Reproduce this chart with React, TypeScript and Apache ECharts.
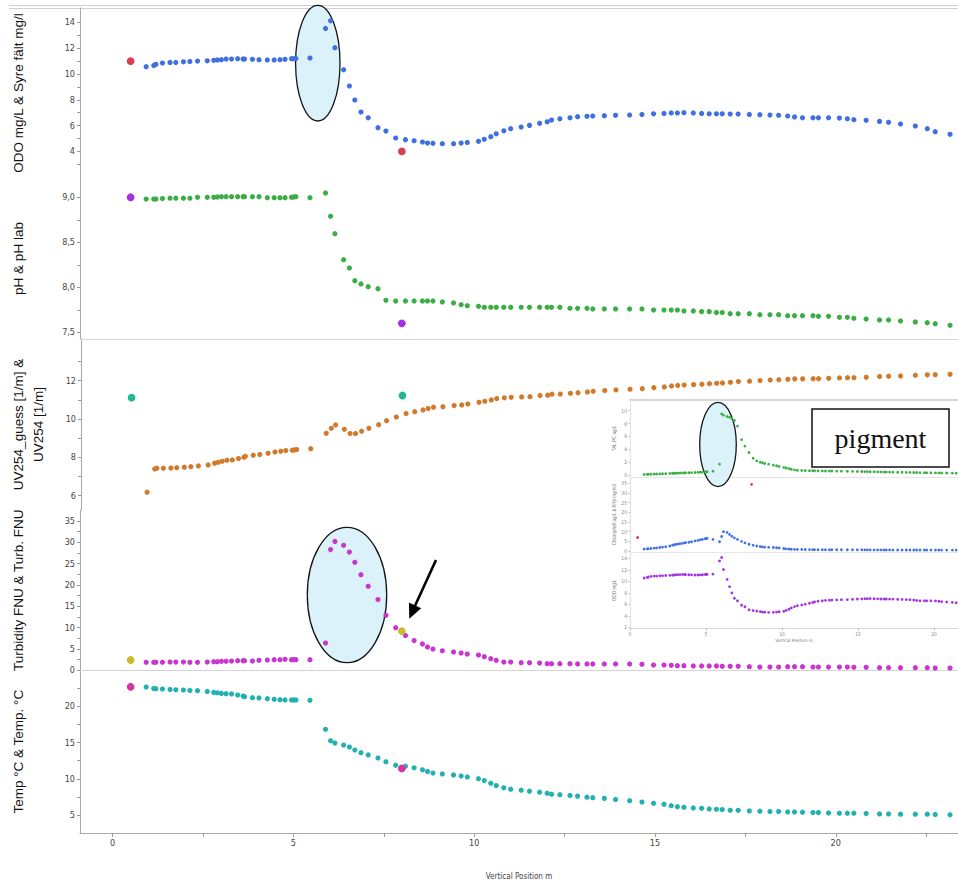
import React, { useEffect, useRef } from "react";
import * as echarts from "echarts";

// Sampling depths of the profile (m)
const depth = [
  0.93, 1.14, 1.2, 1.38, 1.59, 1.75, 1.96, 2.14, 2.35, 2.62,
  2.8, 2.9, 3.01, 3.14, 3.29, 3.46, 3.61, 3.65, 3.87, 4.05,
  4.28, 4.47, 4.63, 4.77, 4.95, 5.01, 5.07, 5.46,
  5.89, 6.03, 6.15, 6.39, 6.55, 6.7, 6.87, 7.07, 7.34, 7.56,
  7.83, 8.1, 8.34, 8.57, 8.71, 8.86, 9.12, 9.43, 9.64, 9.81,
  10.12, 10.28, 10.46, 10.61, 10.82, 11.01, 11.3, 11.53,
  11.81, 12.02, 12.14, 12.37, 12.65, 12.86, 13.12, 13.28, 13.6, 13.91,
  14.3, 14.64, 14.96, 15.25, 15.45, 15.62, 15.8, 16.06, 16.29, 16.5,
  16.7, 16.86, 17.08, 17.3, 17.61, 17.9, 18.18, 18.42, 18.67, 18.86,
  19.08, 19.37, 19.52, 19.8, 20.1, 20.32, 20.5, 20.84, 21.21, 21.46,
  21.79, 22.2, 22.53, 22.75, 23.16,
];

// Sonde readings
const odo = [
  10.57, 10.67, 10.75, 10.85, 10.9, 10.9, 10.95, 10.98, 11.01, 11.03,
  11.06, 11.09, 11.11, 11.16, 11.16, 11.19, 11.16, 11.16, 11.14, 11.11,
  11.09, 11.09, 11.11, 11.14, 11.19, 11.19, 11.21, 11.24,
  13.54, 14.13, 12.04, 10.33, 9.07, 7.98, 7.05, 6.61, 5.84, 5.58,
  5.04, 4.91, 4.83, 4.73, 4.65, 4.63, 4.6, 4.6, 4.65, 4.7,
  4.78, 4.94, 5.14, 5.37, 5.6, 5.76, 5.89, 6.02,
  6.18, 6.3, 6.43, 6.53, 6.61, 6.69, 6.72, 6.74, 6.77, 6.8,
  6.82, 6.87, 6.92, 6.95, 6.98, 6.98, 7.0, 6.98, 6.95, 6.92,
  6.92, 6.92, 6.9, 6.9, 6.87, 6.85, 6.82, 6.8, 6.74, 6.67,
  6.61, 6.61, 6.61, 6.61, 6.59, 6.53, 6.46, 6.41, 6.33, 6.26,
  6.12, 5.97, 5.76, 5.53, 5.33,
];

const ph = [
  8.98, 8.98, 8.98, 8.985, 8.99, 8.99, 8.99, 8.99, 9.0, 9.0,
  9.0, 9.003, 9.007, 9.007, 9.007, 9.007, 9.007, 9.007, 9.007, 9.007,
  8.996, 8.996, 8.996, 8.996, 9.0, 9.003, 9.007, 8.996,
  9.048, 8.789, 8.596, 8.307, 8.214, 8.074, 8.037, 8.007, 7.985, 7.856,
  7.848, 7.848, 7.848, 7.848, 7.848, 7.848, 7.837, 7.826, 7.807, 7.796,
  7.789, 7.778, 7.778, 7.778, 7.778, 7.778, 7.778, 7.778,
  7.778, 7.778, 7.778, 7.778, 7.767, 7.767, 7.767, 7.76, 7.76, 7.76,
  7.76, 7.76, 7.748, 7.748, 7.748, 7.748, 7.737, 7.737, 7.73, 7.73,
  7.719, 7.719, 7.707, 7.707, 7.707, 7.696, 7.696, 7.696, 7.685, 7.685,
  7.685, 7.685, 7.678, 7.678, 7.667, 7.667, 7.656, 7.648, 7.637, 7.637,
  7.626, 7.615, 7.607, 7.596, 7.578,
];

const uv254 = [
  6.18, 7.39, 7.43, 7.43, 7.44, 7.46, 7.48, 7.51, 7.55, 7.6,
  7.69, 7.74, 7.79, 7.85, 7.86, 7.93, 8.0, 8.05, 8.11, 8.14,
  8.21, 8.28, 8.31, 8.35, 8.37, 8.38, 8.4, 8.45,
  9.25, 9.51, 9.69, 9.46, 9.24, 9.24, 9.36, 9.51, 9.7, 9.91,
  10.1, 10.28, 10.38, 10.47, 10.54, 10.61, 10.64, 10.7, 10.73, 10.78,
  10.87, 10.92, 10.99, 11.06, 11.1, 11.13, 11.15, 11.16,
  11.22, 11.24, 11.29, 11.3, 11.34, 11.37, 11.41, 11.44, 11.48, 11.51,
  11.55, 11.58, 11.63, 11.67, 11.72, 11.75, 11.77, 11.79, 11.81, 11.84,
  11.86, 11.88, 11.91, 11.95, 11.97, 12.0, 12.03, 12.05, 12.07, 12.09,
  12.09, 12.1, 12.1, 12.12, 12.14, 12.15, 12.15, 12.17, 12.21, 12.23,
  12.24, 12.28, 12.3, 12.31, 12.33,
];

const turbidity = [
  1.89, 1.89, 1.89, 1.89, 1.96, 1.96, 1.96, 1.89, 1.89, 1.96,
  2.04, 2.04, 2.12, 2.12, 2.2, 2.27, 2.27, 2.27, 2.2, 2.36,
  2.43, 2.5, 2.5, 2.59, 2.5, 2.5, 2.5, 2.5,
  6.4, 28.3, 30.2, 29.3, 27.7, 25.3, 22.4, 19.7, 16.6, 12.9,
  10.0, 8.2, 7.0, 6.2, 5.5, 5.0, 4.6, 4.3, 4.07, 3.83,
  3.6, 3.2, 2.73, 2.36, 1.96, 1.96, 1.8, 1.8,
  1.73, 1.57, 1.57, 1.57, 1.57, 1.5, 1.5, 1.5, 1.5, 1.5,
  1.5, 1.42, 1.26, 1.26, 1.19, 1.1, 1.1, 1.03, 1.03, 1.03,
  1.03, 0.96, 0.96, 0.96, 0.86, 0.79, 0.79, 0.79, 0.86, 0.86,
  0.86, 0.79, 0.79, 0.79, 0.79, 0.79, 0.72, 0.72, 0.63, 0.63,
  0.63, 0.63, 0.63, 0.56, 0.56,
];

const temp = [
  22.64, 22.45, 22.41, 22.37, 22.31, 22.27, 22.23, 22.18, 22.14, 22.04,
  21.9, 21.86, 21.77, 21.73, 21.69, 21.55, 21.41, 21.32, 21.18, 21.14,
  21.05, 20.95, 20.91, 20.87, 20.87, 20.87, 20.87, 20.82,
  16.83, 15.24, 14.93, 14.65, 14.38, 13.97, 13.61, 13.29, 12.88, 12.34,
  11.89, 11.75, 11.52, 11.25, 11.02, 10.8, 10.67, 10.53, 10.39, 10.26,
  10.03, 9.76, 9.39, 9.07, 8.76, 8.57, 8.44, 8.3,
  8.16, 8.03, 7.89, 7.81, 7.71, 7.62, 7.48, 7.4, 7.31, 7.17,
  6.99, 6.8, 6.63, 6.49, 6.31, 6.17, 6.08, 5.99, 5.94, 5.85,
  5.81, 5.77, 5.67, 5.67, 5.58, 5.54, 5.5, 5.5, 5.44, 5.44,
  5.4, 5.36, 5.36, 5.31, 5.27, 5.27, 5.27, 5.22, 5.17, 5.17,
  5.13, 5.13, 5.13, 5.09, 5.04,
];

// Field / lab reference measurements
const labDepth = [0.5, 8.0];
const syreFalt = [11.0, 4.0];
const phLab = [9.0, 7.6];
const uv254Guess = [11.11, 11.22];
const turbLab = [2.43, 9.2];
const tempLab = [22.68, 11.43];

// Pigment profile
const talPc = [
  0.1, 0.12, 0.12, 0.14, 0.15, 0.16, 0.18, 0.2, 0.22, 0.25,
  0.27, 0.28, 0.29, 0.3, 0.31, 0.33, 0.34, 0.35, 0.36, 0.38,
  0.4, 0.42, 0.44, 0.46, 0.48, 0.5, 0.52, 0.6,
  1.7, 9.5, 9.3, 9.1, 9.0, 8.8, 8.5, 7.6, 5.5, 4.5,
  3.5, 2.6, 2.2, 2.0, 1.9, 1.8, 1.7, 1.55, 1.45, 1.35,
  1.2, 1.1, 1.0, 0.9, 0.8, 0.75, 0.72, 0.7,
  0.68, 0.67, 0.66, 0.65, 0.64, 0.63, 0.62, 0.62, 0.61, 0.6,
  0.58, 0.57, 0.56, 0.55, 0.54, 0.53, 0.52, 0.51, 0.5, 0.49,
  0.48, 0.47, 0.46, 0.45, 0.44, 0.43, 0.42, 0.41, 0.4, 0.39,
  0.38, 0.37, 0.36, 0.35, 0.34, 0.33, 0.32, 0.31, 0.3, 0.29,
  0.28, 0.27, 0.26, 0.26, 0.25,
];

const chlorophyll = [
  1.0, 1.1, 1.2, 1.3, 1.5, 1.6, 1.8, 2.0, 2.2, 2.6,
  3.0, 3.2, 3.4, 3.6, 3.8, 4.0, 4.2, 4.3, 4.5, 4.8,
  5.2, 5.5, 5.8, 6.0, 6.3, 6.5, 6.6, 6.0,
  4.8, 7.5, 10.0, 9.6, 8.6, 7.6, 6.8, 6.0, 5.0, 4.2,
  3.5, 3.0, 2.6, 2.3, 2.1, 2.0, 1.9, 1.8, 1.7, 1.6,
  1.3, 1.1, 1.0, 0.9, 0.85, 0.8, 0.8, 0.75,
  0.72, 0.7, 0.7, 0.68, 0.68, 0.66, 0.66, 0.65, 0.64, 0.64,
  0.63, 0.62, 0.62, 0.61, 0.6, 0.6, 0.59, 0.58, 0.58, 0.57,
  0.56, 0.56, 0.55, 0.55, 0.54, 0.53, 0.53, 0.52, 0.52, 0.51,
  0.5, 0.5, 0.49, 0.49, 0.48, 0.48, 0.47, 0.47, 0.46, 0.46,
  0.45, 0.45, 0.44, 0.44, 0.43,
];

const klfyl = [7.0, 34.5];

// Axis ticks
const xLabels = [0, 5, 10, 15, 20];
const xTicks = [0, 2.5, 5, 7.5, 10, 12.5, 15, 17.5, 20, 22.5];
const odoLabels = [4, 6, 8, 10, 12, 14];
const odoTicks = [3, 4, 5, 6, 7, 8, 9, 10, 11, 12, 13, 14];
const phLabels = [7.5, 8.0, 8.5, 9.0];
const phTicks = [7.5, 7.75, 8.0, 8.25, 8.5, 8.75, 9.0];
const uvLabels = [6, 8, 10, 12];
const uvTicks = [6, 7, 8, 9, 10, 11, 12, 13];
const turbLabels = [0, 5, 10, 15, 20, 25, 30, 35];
const turbTicks = [0, 2.5, 5, 7.5, 10, 12.5, 15, 17.5, 20, 22.5, 25, 27.5, 30, 32.5, 35];
const tempLabels = [5, 10, 15, 20];
const tempTicks = [5, 7.5, 10, 12.5, 15, 17.5, 20, 22.5];
const talLabels = [0, 2, 4, 6, 8, 10];
const chlLabels = [0, 5, 10, 15, 20, 25, 30, 35];
const insetOdoLabels = [2, 4, 6, 8, 10, 12, 14];

const TICK_FONT = '"Liberation Sans Narrow", "Arial Narrow", "DejaVu Sans Condensed", sans-serif';
const TITLE_FONT = '"Liberation Sans", Arial, sans-serif';

const pairs = (xs: number[], ys: number[]) => xs.map((x, i) => [x, ys[i]]);
const comma = (v: number) => v.toFixed(1).replace(".", ",");

type Panel = {
  top: number;
  bottom: number;
  min: number;
  max: number;
  labels: number[];
  ticks: number[];
  name: string;
  gap: number;
  fmt?: (v: number) => string;
};

const mainPanels: Panel[] = [
  { top: 8, bottom: 178, min: 1.94, max: 15.12, labels: odoLabels, ticks: odoTicks, name: "ODO mg/L & Syre fält mg/l", gap: 52 },
  { top: 178, bottom: 339, min: 7.426, max: 9.214, labels: phLabels, ticks: phTicks, name: "pH & pH lab", gap: 52, fmt: comma },
  { top: 339, bottom: 510, min: 5.25, max: 14.17, labels: uvLabels, ticks: uvTicks, name: "UV254_guess [1/m] &\nUV254 [1/m]", gap: 33 },
  { top: 510, bottom: 670.4, min: 0, max: 37.56, labels: turbLabels, ticks: turbTicks, name: "Turbidity FNU & Turb. FNU", gap: 52 },
  { top: 670.4, bottom: 835, min: 2.54, max: 24.94, labels: tempLabels, ticks: tempTicks, name: "Temp °C & Temp. °C", gap: 52 },
];

const insetPanels: Panel[] = [
  { top: 400, bottom: 477, min: -0.3, max: 11.66, labels: talLabels, ticks: talLabels, name: "TAL PC ug/L", gap: 11 },
  { top: 477, bottom: 552.3, min: -0.67, max: 38.3, labels: chlLabels, ticks: chlLabels, name: "Chlorophyll ug/L & Klfyl mg/m3", gap: 11 },
  { top: 552.3, bottom: 628.3, min: 1.83, max: 15.04, labels: insetOdoLabels, ticks: insetOdoLabels, name: "ODO mg/L", gap: 11 },
];

const MAIN_X = { min: -0.9, max: 23.38 };
const INSET_X = { min: 0, max: 21.58 };

function buildOption() {
  const grid: any[] = [];
  const xAxis: any[] = [];
  const yAxis: any[] = [];

  mainPanels.forEach((p, i) => {
    grid.push({ left: 79, right: 0, top: p.top, height: p.bottom - p.top });
    const last = i === mainPanels.length - 1;
    const divider = i === 1 || i === 3;
    xAxis.push({
      gridIndex: i,
      type: "value",
      min: MAIN_X.min,
      max: MAIN_X.max,
      position: "bottom",
      axisLine: { show: last || divider, onZero: false, lineStyle: { color: last ? "#a8a8a8" : "#d4d4d4", width: 1 } },
      axisTick: { show: last, customValues: xTicks, length: 4, lineStyle: { color: "#9a9a9a" } },
      axisLabel: { show: last, customValues: xLabels, fontSize: 9, color: "#444", margin: 5, fontFamily: TICK_FONT },
      splitLine: { show: false },
      name: last ? "Vertical Position m" : "",
      nameLocation: "middle",
      nameGap: 39,
      nameTextStyle: { fontSize: 8, color: "#444", fontFamily: TICK_FONT },
    });
    yAxis.push({
      gridIndex: i,
      type: "value",
      min: p.min,
      max: p.max,
      position: "left",
      axisLine: { show: true, onZero: false, lineStyle: { color: "#a8a8a8", width: 1 } },
      axisTick: { show: true, customValues: p.ticks, length: 3, lineStyle: { color: "#9a9a9a" } },
      axisLabel: {
        show: true,
        customValues: p.labels,
        fontSize: 9,
        color: "#444",
        margin: 5,
        fontFamily: TICK_FONT,
        formatter: p.fmt ? (v: number) => p.fmt!(v) : (v: number) => String(v),
      },
      splitLine: { show: false },
      name: p.name,
      nameLocation: "middle",
      nameRotate: 90,
      nameGap: p.gap,
      nameTextStyle: { fontSize: 13.5, color: "#111", fontFamily: TITLE_FONT, lineHeight: 20, align: "center" },
    });
  });

  // Inset pigment profile: three stacked panels
  insetPanels.forEach((p, k) => {
    const gi = mainPanels.length + k;
    grid.push({ left: 630, right: 0, top: p.top, height: p.bottom - p.top });
    xAxis.push({
      gridIndex: gi,
      type: "value",
      min: INSET_X.min,
      max: INSET_X.max,
      position: "top",
      axisLine: { show: true, onZero: false, lineStyle: { color: k === 0 ? "#d8d8d8" : "#e6e6e6", width: k === 0 ? 2 : 1 } },
      axisTick: { show: false },
      axisLabel: { show: false },
      splitLine: { show: false },
    });
    yAxis.push({
      gridIndex: gi,
      type: "value",
      min: p.min,
      max: p.max,
      position: "left",
      axisLine: { show: true, onZero: false, lineStyle: { color: "#e2e2e2", width: 1 } },
      axisTick: { show: true, customValues: p.ticks, length: 1.5, lineStyle: { color: "#bbb" } },
      axisLabel: { show: true, customValues: p.labels, fontSize: 5, color: "#8a8a8a", margin: 3, fontFamily: TICK_FONT },
      splitLine: { show: false },
      name: p.name,
      nameLocation: "middle",
      nameRotate: 90,
      nameGap: p.gap,
      nameTextStyle: { fontSize: 4.5, color: "#777", fontFamily: TITLE_FONT },
    });
  });

  // Bottom axis of the inset (shares the lowest inset grid)
  const insetBottomX = xAxis.length;
  xAxis.push({
    gridIndex: mainPanels.length + 2,
    type: "value",
    min: INSET_X.min,
    max: INSET_X.max,
    position: "bottom",
    axisLine: { show: true, onZero: false, lineStyle: { color: "#d8d8d8", width: 1 } },
    axisTick: { show: true, customValues: xLabels, length: 2, lineStyle: { color: "#bbb" } },
    axisLabel: { show: true, customValues: xLabels, fontSize: 5, color: "#8a8a8a", margin: 3, fontFamily: TICK_FONT },
    splitLine: { show: false },
    name: "Vertical Position m",
    nameLocation: "middle",
    nameGap: 10,
    nameTextStyle: { fontSize: 4.5, color: "#777", fontFamily: TICK_FONT },
  });

  const dots = (name: string, ax: number, ay: number, data: number[][], color: string, size: number) => ({
    name,
    type: "scatter",
    xAxisIndex: ax,
    yAxisIndex: ay,
    data,
    symbol: "circle",
    symbolSize: size,
    itemStyle: { color, opacity: 1 },
    clip: true,
    z: 3,
  });

  const S = 5.2;
  const R = 7.8;
  const I = 2.8;
  const series = [
    dots("ODO mg/L", 0, 0, pairs(depth, odo), "#3f6fe1", S),
    dots("Syre fält mg/l", 0, 0, pairs(labDepth, syreFalt), "#d7414f", R),
    dots("pH", 1, 1, pairs(depth, ph), "#3aad44", S),
    dots("pH lab", 1, 1, pairs(labDepth, phLab), "#a62ee6", R),
    dots("UV254", 2, 2, pairs(depth, uv254), "#d27a2c", S),
    dots("UV254_guess", 2, 2, pairs(labDepth, uv254Guess), "#23b98f", R),
    dots("Turbidity FNU", 3, 3, pairs(depth, turbidity), "#c835cf", S),
    dots("Turb. FNU", 3, 3, pairs(labDepth, turbLab), "#c9bd2b", R),
    dots("Temp °C", 4, 4, pairs(depth, temp), "#22b1b0", S),
    dots("Temp. °C", 4, 4, pairs(labDepth, tempLab), "#d6379f", R),
    dots("TAL PC ug/L", 5, 5, pairs(depth, talPc), "#3cae46", I),
    dots("Chlorophyll ug/L", 6, 6, pairs(depth, chlorophyll), "#4272e2", I),
    dots("Klfyl mg/m3", 6, 6, pairs(labDepth, klfyl), "#e0333d", I),
    dots("ODO mg/L (pigment)", insetBottomX, 7, pairs(depth, odo), "#a234e3", I),
  ];

  const ellipseStyle = { fill: "#dcf2fb", stroke: "#151515", lineWidth: 1.3 };
  const graphic = [
    { type: "line", z: 0, shape: { x1: 9, y1: 5.5, x2: 958, y2: 5.5 }, style: { stroke: "#cfcfcf", lineWidth: 1 } },
    { type: "line", z: 0, shape: { x1: 9, y1: 8.5, x2: 958, y2: 8.5 }, style: { stroke: "#cfcfcf", lineWidth: 1 } },
    { type: "ellipse", z: 1, shape: { cx: 317.8, cy: 63.2, rx: 22.2, ry: 57.8 }, style: ellipseStyle },
    { type: "ellipse", z: 1, shape: { cx: 347, cy: 595, rx: 39.7, ry: 67.7 }, style: ellipseStyle },
    { type: "ellipse", z: 1, shape: { cx: 718, cy: 444.5, rx: 18.3, ry: 42.2 }, style: ellipseStyle },
    { type: "line", z: 50, shape: { x1: 436, y1: 560, x2: 414, y2: 608 }, style: { stroke: "#000", lineWidth: 2.6 } },
    { type: "polygon", z: 50, shape: { points: [[409.3, 618.8], [421.2, 608.2], [408.9, 602.6]] }, style: { fill: "#000" } },
    { type: "rect", z: 50, shape: { x: 812, y: 409, width: 137, height: 58 }, style: { fill: "#fff", stroke: "#111", lineWidth: 1.5 } },
    {
      type: "text",
      z: 51,
      style: {
        text: "pigment",
        x: 880.5,
        y: 438,
        align: "center",
        verticalAlign: "middle",
        fontSize: 28,
        fontFamily: '"Liberation Serif", "Times New Roman", serif',
        fill: "#111",
      },
    },
  ];

  return {
    animation: false,
    backgroundColor: "#fff",
    grid,
    xAxis,
    yAxis,
    series,
    graphic,
  };
}

export default function App() {
  const ref = useRef<HTMLDivElement>(null);

  useEffect(() => {
    document.body.style.margin = "0";
    if (!ref.current) return;
    const chart = echarts.init(ref.current, undefined, { renderer: "svg" });
    chart.setOption(buildOption() as any);
    return () => chart.dispose();
  }, []);

  return <div ref={ref} style={{ width: 958, height: 881 }} />;
}
